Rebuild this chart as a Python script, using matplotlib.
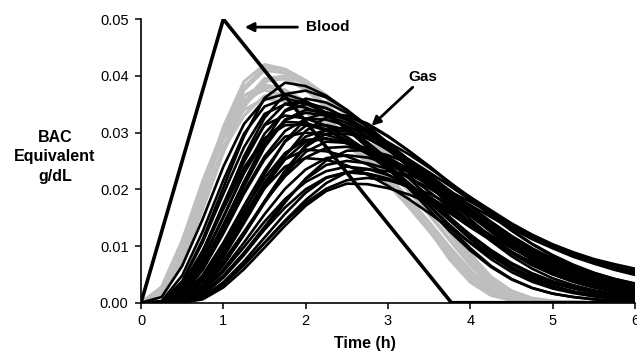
import matplotlib
matplotlib.use("Agg")
import matplotlib.pyplot as plt
import numpy as np

plt.rcParams['font.family'] = ['Liberation Sans', 'DejaVu Sans']

# time axis (h)
hours = [0, 0.25, 0.5, 0.75, 1.0, 1.25, 1.5, 1.75, 2.0, 2.25, 2.5, 2.75, 3.0,
         3.25, 3.5, 3.75, 4.0, 4.25, 4.5, 4.75, 5.0, 5.25, 5.5, 5.75, 6.0]

# blood alcohol (mg/dL)
blood_hours = [0, 1.0, 3.77, 6.0]
blood_mgdl = [0, 50, 0, 0]

# gas readings, grey runs (mg/dL equivalent)
gray_1 = [0, 2, 9.5, 19.5, 30, 38, 41.5, 41, 39, 36.2, 33, 29.4, 25.6, 21.8, 17.6, 12.9, 8.1, 4.3, 1.9, 0.7, 0.25, 0.1, 0, 0, 0]
gray_2 = [0, 2, 9.5, 19.5, 29, 35.5, 39.5, 39.5, 37.5, 34.5, 31, 27.4, 23.6, 19.7, 15.5, 11, 6.6, 3.3, 1.4, 0.5, 0.2, 0.1, 0, 0, 0]
gray_3 = [0, 2.5, 10, 20, 29, 35, 38, 37.5, 35.5, 32.5, 29.3, 25.9, 22.3, 18.4, 14.2, 9.8, 5.7, 2.7, 1.0, 0.35, 0.1, 0, 0, 0, 0]
gray_4 = [0, 1.5, 7.5, 17.5, 27.5, 35, 39.5, 40, 38.6, 36.2, 33, 29.5, 25.6, 21.5, 17.2, 12.5, 7.6, 3.8, 1.6, 0.6, 0.2, 0.1, 0, 0, 0]
gray_5 = [0, 2, 8.5, 18, 27, 33, 36.5, 36.5, 35, 32.5, 29.5, 26, 22.3, 18.3, 14, 9.5, 5.3, 2.4, 0.9, 0.3, 0.1, 0, 0, 0, 0]
gray_6 = [0, 2.5, 10.5, 21, 30.5, 36.5, 38.5, 37.5, 35, 32, 28.8, 25.3, 21.5, 17.5, 13.2, 8.8, 4.8, 2.0, 0.7, 0.2, 0.1, 0, 0, 0, 0]
gray_7 = [0, 2.5, 10, 20.5, 29, 34, 36, 35.5, 33.5, 31, 28, 24.8, 21.2, 17.2, 12.8, 7.6, 3.6, 1.3, 0.4, 0.1, 0, 0, 0, 0, 0]
gray_8 = [0, 2, 8.8, 19, 29.5, 37.5, 41, 40.5, 38.8, 36.2, 33, 29.4, 25.5, 21.4, 17, 12.2, 7.3, 3.5, 1.5, 0.6, 0.2, 0.1, 0, 0, 0]
gray_9 = [0, 1.5, 7, 16.5, 26.5, 34.5, 39, 39.5, 37.8, 35, 31.6, 28, 24.1, 20.1, 15.8, 11.2, 6.6, 3.2, 1.3, 0.5, 0.2, 0.1, 0, 0, 0]
gray_10 = [0, 2.8, 11, 21.5, 30.5, 35.8, 37.5, 36.5, 34.2, 31.3, 28, 24.6, 20.9, 16.9, 12.6, 8.1, 4.2, 1.6, 0.5, 0.15, 0, 0, 0, 0, 0]
gray_11 = [0, 2.2, 9.5, 20, 31, 39, 42, 41.2, 39.2, 36.6, 33.5, 30, 26.2, 22.3, 18.1, 13.4, 8.6, 4.6, 2.1, 0.8, 0.3, 0.1, 0, 0, 0]

# gas readings, black runs (mg/dL equivalent)
black_1 = [0, 1.0, 6.5, 14.8, 24, 31.5, 35.8, 36.8, 35.6, 33.5, 30.8, 27.8, 24.5, 21, 17.2, 13.3, 9.6, 6.5, 4.2, 2.6, 1.6, 1.0, 0.6, 0.35, 0.2]
black_2 = [0, 0.1, 3.8, 11.2, 20.3, 29.3, 36.1, 38.8, 38.2, 36.5, 34, 31, 27.8, 24.4, 20.9, 17.4, 14, 10.9, 8.2, 6.0, 4.3, 3.1, 2.2, 1.6, 1.1]
black_3 = [0, 0.1, 3.1, 9.2, 16.9, 24.8, 31.4, 35.1, 35.3, 34.3, 32.6, 30.5, 28, 25.2, 22.2, 19, 15.8, 12.7, 9.9, 7.5, 5.6, 4.1, 3.0, 2.2, 1.6]
black_4 = [0, 0, 2.6, 9.1, 17.4, 25.4, 31.3, 33, 32.5, 31.2, 29.2, 26.8, 24, 21, 17.8, 14.5, 11.2, 8.3, 5.9, 4.1, 2.8, 1.9, 1.3, 0.9, 0.6]
black_5 = [0, 0, 1.4, 6.2, 13.3, 21.2, 28.5, 33.9, 36, 35.3, 33.5, 31, 28.2, 25.2, 22.2, 19.2, 16.3, 13.6, 11.1, 8.9, 7.1, 5.6, 4.4, 3.4, 2.7]
black_6 = [0, 0, 1.3, 5.8, 12.2, 19.2, 25.3, 29.3, 30, 29.6, 28.5, 26.8, 24.7, 22.3, 19.6, 16.8, 14, 11.3, 8.9, 6.9, 5.2, 3.9, 2.9, 2.1, 1.5]
black_7 = [0, 0, 0.6, 4.0, 9.5, 16.0, 22.7, 28.5, 32.4, 33.5, 32.9, 31.4, 29.3, 26.8, 24.1, 21.2, 18.3, 15.4, 12.7, 10.3, 8.2, 6.5, 5.1, 4.0, 3.1]
black_8 = [0, 0, 1.1, 4.9, 10.6, 17.1, 23.3, 28.4, 31.2, 31.3, 30.5, 29, 27, 24.7, 22.1, 19.3, 16.5, 13.7, 11.1, 8.8, 6.9, 5.3, 4.0, 3.0, 2.3]
black_9 = [0, 0, 0.6, 4.0, 9.3, 15.3, 21.2, 25.3, 27, 26.7, 25.8, 24.4, 22.6, 20.5, 18.2, 15.8, 13.3, 11, 8.9, 7.1, 5.5, 4.2, 3.2, 2.4, 1.8]
black_10 = [0, 0, 0.2, 2.5, 6.7, 12.0, 17.8, 23.3, 27.8, 30.5, 30.9, 30, 28.3, 26.2, 23.8, 21.2, 18.6, 16.1, 13.8, 11.7, 9.9, 8.4, 7.1, 6.0, 5.1]
black_11 = [0, 0, 0, 1.4, 4.4, 8.4, 13, 17.7, 21.9, 25.1, 26.8, 26.9, 26, 24.6, 22.8, 20.8, 18.6, 16.3, 14, 12, 10.3, 8.9, 7.7, 6.8, 6.0]
black_12 = [0, 0, 0, 0.6, 2.7, 5.9, 9.7, 13.6, 17.1, 19.7, 21, 20.9, 20.2, 19.1, 17.6, 15.8, 13.8, 11.8, 9.9, 8.2, 6.7, 5.4, 4.4, 3.5, 2.8]
black_13 = [0, 0, 0, 1.0, 3.6, 7.3, 11.5, 15.7, 19.4, 22, 23, 22.7, 21.8, 20.4, 18.6, 16.5, 14.2, 11.9, 9.8, 7.9, 6.3, 5.0, 3.9, 3.0, 2.3]
black_14 = [0, 0, 0, 1.5, 4.6, 8.8, 13.4, 18, 21.8, 24.3, 25, 24.6, 23.6, 22.1, 20.2, 18, 15.6, 13.2, 10.9, 8.8, 7.0, 5.5, 4.3, 3.3, 2.5]
black_15 = [0, 0, 0.2, 2.5, 6.7, 12, 17.6, 22.7, 26.6, 28.4, 28.2, 27.2, 25.6, 23.6, 21.3, 18.8, 16.2, 13.7, 11.3, 9.2, 7.4, 5.9, 4.7, 3.7, 2.9]
black_16 = [0, 0, 2.2, 7.8, 15.2, 22.8, 28.9, 31.9, 31.7, 30.6, 28.7, 26.3, 23.5, 20.4, 17.1, 13.7, 10.5, 7.7, 5.4, 3.7, 2.5, 1.7, 1.1, 0.7, 0.5]
black_17 = [0, 0, 1.0, 4.4, 9.4, 15.0, 20.2, 24.0, 25.5, 25.2, 24.2, 22.6, 20.6, 18.3, 15.8, 13.2, 10.6, 8.2, 6.2, 4.6, 3.4, 2.5, 1.8, 1.3, 0.9]
black_18 = [0, 0, 0.6, 3.7, 8.6, 14.5, 20.4, 25.3, 28.4, 28.9, 28.3, 27, 25.2, 23, 20.6, 18, 15.4, 12.9, 10.6, 8.6, 6.9, 5.5, 4.3, 3.4, 2.7]
black_19 = [0, 0.1, 3.6, 10.7, 19.2, 27.4, 33.3, 35, 34.4, 33, 30.9, 28.3, 25.3, 22, 18.6, 15.1, 11.8, 8.8, 6.3, 4.4, 3.0, 2.0, 1.4, 0.9, 0.6]
black_20 = [0, 0, 0.2, 2.5, 6.8, 12.1, 17.9, 23.2, 27.5, 29.8, 29.8, 29, 27.3, 25.3, 23.0, 20.6, 18.1, 15.7, 13.4, 11.4, 9.7, 8.3, 7.1, 6.1, 5.3]
black_21 = [0, 0, 1.4, 6.1, 13, 20.5, 27.4, 32.2, 33.5, 33, 31.7, 29.8, 27.4, 24.7, 21.8, 18.8, 15.8, 12.9, 10.3, 8.1, 6.3, 4.8, 3.7, 2.8, 2.1]
black_22 = [0, 0, 0, 1.1, 3.5, 6.8, 10.6, 14.5, 18.1, 21.1, 23, 23.5, 23.2, 22.5, 21.2, 19.6, 17.8, 15.8, 13.8, 11.9, 10.2, 8.7, 7.4, 6.4, 5.6]
black_23 = [0, 0, 2.5, 8.5, 17, 25.8, 32.6, 36.8, 37.4, 36.2, 34, 31.2, 28.1, 24.8, 21.4, 18, 14.7, 11.6, 8.9, 6.7, 5.0, 3.7, 2.7, 2.0, 1.5]
black_24 = [0, 0, 1.8, 6.8, 13.8, 21.3, 27.9, 32.3, 34, 33.6, 32.2, 30.1, 27.6, 24.8, 21.8, 18.8, 15.8, 13.0, 10.5, 8.3, 6.5, 5.0, 3.9, 3.0, 2.3]
black_25 = [0, 0, 0.8, 4.0, 9.2, 15.2, 21.1, 26.1, 29.3, 30.5, 30.2, 29, 27.2, 25, 22.5, 19.8, 17, 14.3, 11.8, 9.6, 7.7, 6.1, 4.8, 3.8, 3.0]
black_26 = [0, 0, 0.5, 3.0, 7.3, 12.5, 17.8, 22.3, 25.6, 27.3, 27.5, 26.8, 25.4, 23.5, 21.3, 18.9, 16.4, 13.9, 11.6, 9.5, 7.7, 6.2, 5.0, 4.0, 3.2]
black_27 = [0, 0, 0.2, 2.0, 5.5, 9.8, 14.3, 18.3, 21.3, 23.2, 24, 23.6, 22.5, 20.8, 18.7, 16.3, 13.8, 11.3, 9.0, 7.0, 5.4, 4.1, 3.1, 2.3, 1.7]
black_28 = [0, 0, 0, 0.8, 3.2, 6.6, 10.5, 14.3, 17.6, 20.1, 21.6, 22, 21.6, 20.6, 19.2, 17.4, 15.4, 13.3, 11.3, 9.4, 7.8, 6.4, 5.2, 4.2, 3.4]
black_29 = [0, 0.3, 4.8, 12.6, 21.6, 29.8, 34.6, 36, 35.2, 33.3, 30.6, 27.4, 23.9, 20.2, 16.4, 12.6, 9.2, 6.3, 4.1, 2.6, 1.6, 1.0, 0.6, 0.4, 0.2]
black_30 = [0, 0, 1.5, 6.0, 12.6, 19.6, 25.8, 30.3, 32.4, 32.3, 31.2, 29.3, 26.9, 24.2, 21.3, 18.3, 15.3, 12.5, 10, 7.8, 6.0, 4.6, 3.5, 2.7, 2.0]
black_31 = [0, 0, 0.9, 4.6, 10.2, 16.3, 22, 26.4, 28.7, 29, 28.1, 26.3, 23.9, 21.1, 18.1, 15.0, 12.0, 9.3, 7.0, 5.2, 3.8, 2.8, 2.0, 1.4, 1.0]
black_32 = [0, 0, 0.3, 2.2, 5.9, 10.6, 15.6, 20.1, 23.5, 25.5, 26, 25.6, 24.6, 23.1, 21.3, 19.3, 17.2, 15.1, 13.1, 11.2, 9.6, 8.1, 6.9, 5.8, 4.9]
black_33 = [0, 0, 0.4, 3.1, 8.0, 14.0, 20.2, 25.9, 30.3, 32.7, 33, 31.6, 29.4, 26.8, 24.0, 21.1, 18.2, 15.4, 12.8, 10.4, 8.4, 6.7, 5.3, 4.2, 3.3]
black_34 = [0, 0, 2.0, 7.5, 15, 23, 29.8, 33.8, 35, 34.3, 32.5, 30, 27.1, 23.9, 20.6, 17.3, 14.1, 11.2, 8.7, 6.6, 5.0, 3.7, 2.7, 2.0, 1.5]
black_35 = [0, 0, 0.1, 1.6, 4.8, 8.7, 12.9, 16.8, 20, 22.1, 23, 22.8, 21.9, 20.4, 18.5, 16.3, 14, 11.7, 9.6, 7.7, 6.1, 4.8, 3.7, 2.8, 2.1]
black_36 = [0, 0.2, 3.0, 9.0, 16.5, 23.8, 29, 31.3, 31.4, 30.4, 28.6, 26.3, 23.6, 20.7, 17.7, 14.6, 11.7, 9.0, 6.8, 5.0, 3.6, 2.6, 1.8, 1.3, 0.9]

gray_runs = [gray_1, gray_2, gray_3, gray_4, gray_5, gray_6, gray_7, gray_8,
             gray_9, gray_10, gray_11]
black_runs = [black_1, black_2, black_3, black_4, black_5, black_6, black_7,
              black_8, black_9, black_10, black_11, black_12, black_13, black_14,
              black_15, black_16, black_17, black_18, black_19, black_20,
              black_21, black_22, black_23, black_24, black_25, black_26,
              black_27, black_28, black_29, black_30, black_31, black_32,
              black_33, black_34, black_35, black_36]

fig = plt.figure(figsize=(6.37, 3.56), dpi=100)
ax = fig.add_axes([0.2214, 0.1497, 0.7755, 0.7964])

# mg/dL -> g/dL
for run in gray_runs:
    ax.plot(hours, np.array(run) / 1000, color='#bebebe', lw=2.2,
            solid_joinstyle='round')

for run in black_runs:
    ax.plot(hours, np.array(run) / 1000, color='black', lw=1.9,
            solid_joinstyle='round')

ax.plot(blood_hours, np.array(blood_mgdl) / 1000, color='black', lw=2.6)

ax.set_xlim(0, 6)
ax.set_ylim(0, 0.05)
ax.set_xticks([0, 1, 2, 3, 4, 5, 6])
ax.set_yticks([0, 0.01, 0.02, 0.03, 0.04, 0.05])
ax.set_yticklabels(['0.00', '0.01', '0.02', '0.03', '0.04', '0.05'])
ax.tick_params(direction='out', length=4, width=1.1, labelsize=10.5)
ax.tick_params(axis='y', pad=5)
ax.tick_params(axis='x', pad=4)
for side in ['top', 'right']:
    ax.spines[side].set_visible(False)
for side in ['left', 'bottom']:
    ax.spines[side].set_linewidth(1.2)

# labels
fig.text(0.0864, 0.559, 'BAC\nEquivalent\ng/dL', ha='center', va='center',
         fontsize=11.5, fontweight='bold', linespacing=1.35)
fig.text(0.573, 0.034, 'Time (h)', ha='center', va='center',
         fontsize=11.5, fontweight='bold')

# arrows
arrow = dict(arrowstyle='-|>', color='black', lw=2, mutation_scale=13,
             shrinkA=0, shrinkB=0)
ax.annotate('', xy=(1.26, 0.0486), xytext=(1.9, 0.0486), arrowprops=arrow)
ax.text(2.0, 0.0486, 'Blood', ha='left', va='center', fontsize=11,
        fontweight='bold')
ax.annotate('', xy=(2.8, 0.0312), xytext=(3.3, 0.0380), arrowprops=arrow)
ax.text(3.425, 0.0398, 'Gas', ha='center', va='center', fontsize=11,
        fontweight='bold')

fig.savefig('out.png', dpi=100)
